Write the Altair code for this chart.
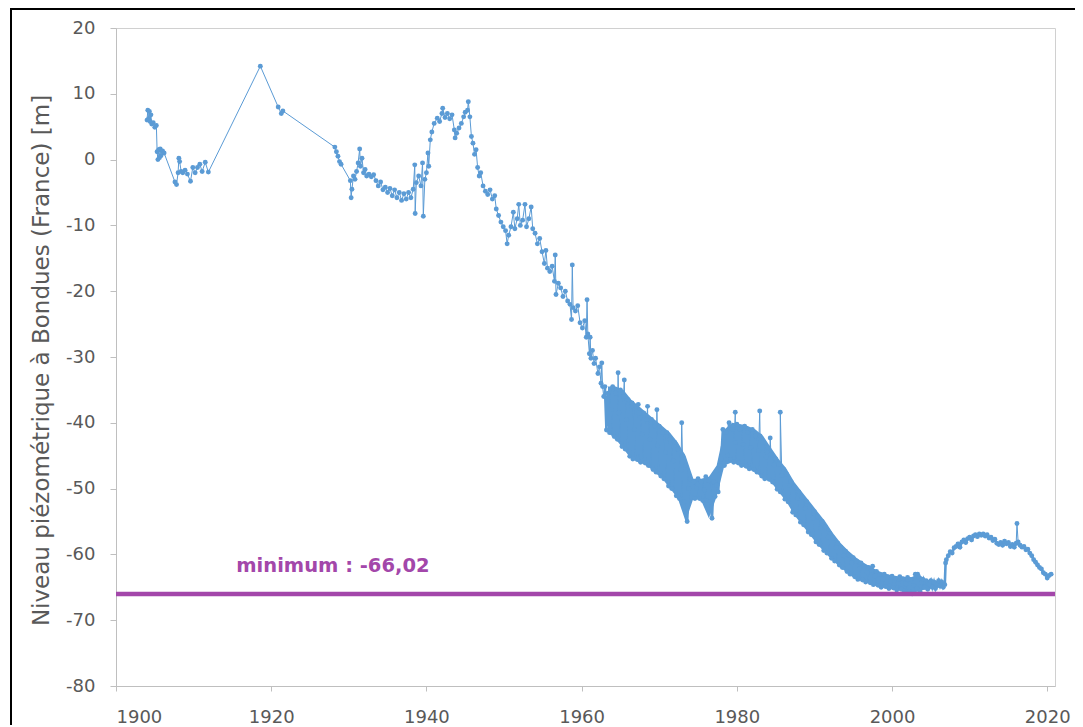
import altair as alt
import pandas as pd

# ---------------- data ----------------
# early measurements (year, level in m)
early = [(1904.0, 6.0), (1904.1, 7.5), (1904.2, 6.2), (1904.3, 7.3), (1904.4, 5.8), (1904.5, 6.8),
         (1904.6, 5.4), (1904.8, 5.6), (1905.0, 4.9), (1905.2, 5.2), (1905.3, 1.2), (1905.4, 0.0),
         (1905.5, 1.5), (1905.6, 0.3), (1905.7, 1.6), (1905.8, 0.6), (1906.0, 1.3), (1906.2, 1.0),
         (1907.6, -3.4), (1907.8, -3.8), (1908.0, -2.0), (1908.1, 0.2), (1908.2, -0.3), (1908.4, -1.8),
         (1908.6, -2.0), (1908.9, -1.6), (1909.2, -2.2), (1909.6, -3.3), (1909.9, -1.2), (1910.2, -2.0),
         (1910.5, -1.2), (1910.8, -0.7), (1911.1, -1.8), (1911.5, -0.4), (1911.9, -1.9),
         (1918.6, 14.2), (1920.9, 8.0), (1921.3, 7.0), (1921.5, 7.4),
         (1928.2, 1.9), (1928.4, 1.2), (1928.6, 0.5), (1928.8, -0.3), (1929.0, -0.7)]

mid = [(1930.2, -3.2), (1930.3, -5.8), (1930.4, -4.5), (1930.6, -2.5), (1930.8, -3.0), (1931.0, -1.8),
       (1931.2, -0.5), (1931.4, 1.6), (1931.5, -1.0), (1931.7, 0.2), (1931.9, -2.0), (1932.1, -1.5),
       (1932.3, -2.5), (1932.6, -2.2), (1932.9, -2.6), (1933.2, -2.3), (1933.5, -3.2), (1933.8, -4.0),
       (1934.1, -3.4), (1934.4, -4.6), (1934.7, -4.2), (1935.0, -5.0), (1935.3, -4.4), (1935.6, -5.5),
       (1935.9, -4.6), (1936.2, -5.8), (1936.5, -5.0), (1936.8, -6.2), (1937.1, -5.2), (1937.4, -6.0),
       (1937.7, -5.0), (1938.0, -5.8), (1938.3, -4.5), (1938.5, -0.8), (1938.55, -8.2), (1938.7, -3.5),
       (1939.0, -2.5), (1939.3, -4.0), (1939.5, -0.5), (1939.6, -8.6), (1939.8, -3.0), (1940.0, -2.0),
       (1940.2, 1.0), (1940.3, -1.0), (1940.5, 3.0), (1940.7, 4.2), (1941.0, 5.5), (1941.4, 6.3),
       (1941.7, 5.8), (1942.0, 7.0), (1942.1, 7.8), (1942.4, 6.4), (1942.7, 7.0), (1943.0, 6.2),
       (1943.3, 6.8), (1943.6, 4.5), (1943.7, 3.3), (1943.9, 4.0), (1944.2, 4.8), (1944.5, 5.5),
       (1944.8, 6.5), (1945.0, 7.2), (1945.3, 7.5), (1945.4, 8.8), (1945.6, 6.5), (1945.8, 3.5),
       (1946.0, 2.5), (1946.2, 0.8), (1946.4, 1.5), (1946.6, -1.2), (1946.8, -2.5), (1947.0, -2.0),
       (1947.3, -4.0), (1947.6, -4.8), (1947.9, -5.3), (1948.2, -4.6), (1948.5, -6.0), (1948.8, -5.5),
       (1949.0, -7.5), (1949.3, -8.5), (1949.6, -9.5), (1949.9, -10.2), (1950.2, -10.8), (1950.4, -12.8),
       (1950.6, -11.5), (1950.9, -10.2), (1951.2, -8.0), (1951.4, -10.5), (1951.7, -9.0), (1951.9, -6.8),
       (1952.1, -10.0), (1952.4, -9.2), (1952.7, -6.8), (1952.9, -10.2), (1953.2, -9.0), (1953.5, -7.2),
       (1953.7, -10.5), (1954.0, -11.2), (1954.3, -12.8), (1954.6, -12.0), (1954.9, -14.0), (1955.2, -15.8),
       (1955.4, -13.8), (1955.6, -16.5), (1955.9, -17.0), (1956.2, -16.2), (1956.5, -18.5), (1956.6, -14.5),
       (1956.7, -20.5), (1957.0, -18.8), (1957.3, -19.5), (1957.6, -20.8), (1957.9, -20.0), (1958.2, -21.5),
       (1958.5, -22.0), (1958.7, -24.3), (1958.8, -16.0), (1958.9, -22.5), (1959.2, -23.0), (1959.5, -22.2),
       (1959.8, -24.8), (1960.1, -25.6), (1960.4, -24.5), (1960.6, -27.0), (1960.7, -21.3), (1960.8, -26.5),
       (1961.0, -29.5), (1961.1, -27.0), (1961.2, -30.2), (1961.4, -29.0), (1961.6, -31.0), (1961.8, -30.2),
       (1962.1, -32.5), (1962.3, -31.5), (1962.5, -34.0), (1962.6, -30.9), (1962.7, -34.5), (1962.85, -36.0)]

# dense seasonal band: five readings per year (at +0.0, +0.2, +0.4, +0.6, +0.8)
band_offsets = [0.0, 0.2, 0.4, 0.6, 0.8]
band = {
    1963: [-34.5, -41.1, -35.5, -41.5, -38.0],
    1964: [-34.5, -42.1, -35.5, -42.5, -38.5],
    1965: [-35.0, -43.6, -36.0, -44.0, -39.5],
    1966: [-36.5, -45.1, -37.5, -45.5, -41.0],
    1967: [-37.5, -45.6, -38.5, -46.0, -41.8],
    1968: [-38.5, -46.1, -39.5, -46.5, -42.5],
    1969: [-39.5, -47.1, -40.5, -47.5, -43.5],
    1970: [-40.5, -48.1, -41.5, -48.5, -44.5],
    1971: [-41.5, -49.6, -42.5, -50.0, -45.8],
    1972: [-43.0, -51.1, -44.0, -51.5, -47.2],
    1973: [-45.0, -52.0, -46.5, -55.0, -50.0],
    1974: [-48.5, -51.3, -49.0, -51.5, -50.0],
    1975: [-48.5, -51.5, -49.0, -51.8, -50.2],
    1976: [-48.2, -51.8, -48.8, -52.0, -54.5],
    1977: [-49.0, -51.2, -49.5, -50.5, -46.5],
    1978: [-45.5, -41.0, -46.5, -41.5, -45.0],
    1979: [-40.0, -45.6, -41.0, -46.0, -43.0],
    1980: [-40.2, -46.1, -41.0, -46.5, -43.3],
    1981: [-40.5, -46.6, -41.5, -47.0, -43.8],
    1982: [-41.0, -47.1, -42.0, -47.5, -44.2],
    1983: [-42.0, -48.1, -43.0, -48.5, -45.2],
    1984: [-43.8, -48.6, -44.8, -49.0, -46.4],
    1985: [-45.5, -50.1, -46.3, -50.5, -48.0],
    1986: [-47.0, -51.6, -47.8, -52.0, -49.5],
    1987: [-49.0, -53.6, -49.8, -54.0, -51.5],
    1988: [-50.5, -55.1, -51.3, -55.5, -53.0],
    1989: [-52.0, -56.6, -52.8, -57.0, -54.5],
    1990: [-53.5, -58.1, -54.3, -58.5, -56.0],
    1991: [-55.0, -59.4, -55.8, -59.8, -57.4],
    1992: [-56.8, -60.6, -57.5, -61.0, -58.9],
    1993: [-58.3, -61.6, -58.9, -62.0, -60.2],
    1994: [-59.5, -62.6, -60.1, -63.0, -61.3],
    1995: [-60.5, -63.4, -61.0, -63.8, -62.2],
    1996: [-61.3, -63.9, -61.8, -64.2, -62.8],
    1997: [-62.0, -64.3, -62.4, -64.6, -63.3],
    1998: [-62.6, -64.7, -63.0, -65.0, -63.8],
    1999: [-63.0, -64.9, -63.4, -65.2, -64.1],
    2000: [-63.3, -65.1, -63.6, -65.4, -64.4],
    2001: [-63.4, -65.3, -63.7, -65.6, -64.5],
    2002: [-63.5, -65.6, -63.8, -66.0, -64.7],
    2003: [-63.0, -65.2, -63.4, -65.6, -64.3],
    2004: [-63.8, -65.0, -64.0, -65.3, -64.5],
    2005: [-64.0, -65.0, -64.2, -65.2, -64.6],
    2006: [-64.0, -64.8, -64.2, -65.0, -64.6],
}

# isolated high readings inside the band period
spikes = [(1964.7, -32.4), (1965.5, -33.5), (1966.5, -37.0), (1967.3, -37.2), (1968.5, -37.5),
          (1969.7, -38.0), (1972.9, -40.0), (1979.8, -38.4), (1982.95, -38.2), (1984.3, -42.3),
          (1985.6, -38.4), (1997.5, -61.8), (2003.3, -63.0)]

recent = [(2006.9, -61.3), (2007.0, -60.8), (2007.25, -60.2), (2007.5, -59.6), (2007.75, -59.8),
          (2008.0, -59.0), (2008.25, -58.8), (2008.5, -58.4), (2008.75, -58.9), (2009.0, -58.1),
          (2009.25, -57.8), (2009.5, -58.2), (2009.75, -57.6), (2010.0, -57.4), (2010.25, -57.8),
          (2010.5, -57.2), (2010.75, -57.0), (2011.0, -57.3), (2011.25, -56.9), (2011.5, -57.1),
          (2011.75, -56.9), (2012.0, -57.2), (2012.25, -57.0), (2012.5, -57.5), (2012.75, -57.4),
          (2013.0, -57.9), (2013.25, -57.7), (2013.5, -58.3), (2013.75, -58.5), (2014.0, -58.2),
          (2014.25, -58.6), (2014.5, -58.0), (2014.75, -58.4), (2015.0, -58.2), (2015.25, -58.8),
          (2015.5, -58.5), (2015.75, -58.9), (2016.0, -58.3), (2016.25, -58.1),
          (2016.5, -58.6), (2016.75, -58.9), (2017.0, -58.8), (2017.25, -59.3), (2017.5, -59.2),
          (2017.75, -59.8), (2018.0, -60.2), (2018.25, -60.8), (2018.5, -61.2), (2018.75, -61.6),
          (2019.0, -62.0), (2019.25, -62.2), (2019.5, -62.8), (2019.75, -63.0), (2020.0, -63.6),
          (2020.25, -63.2), (2020.5, -63.0)]
recent_spikes = [(2016.1, -55.3)]

min_level = -66.02
min_label = "minimum : -66,02"
min_label_pos = (1915.5, -62.6)

x_ticks = [1900, 1920, 1940, 1960, 1980, 2000, 2020]
y_ticks = [-80, -70, -60, -50, -40, -30, -20, -10, 0, 10, 20]
y_title = "Niveau piézométrique à Bondues (France) [m]"

BLUE = "#5B9BD5"
PURPLE = "#A347AA"
GREY_TXT = "#595959"

# ---------------- tables ----------------
rows = [(y, v, "sparse") for y, v in early + mid + spikes + recent_spikes]
rows += [(y, v, "dense") for y, v in recent]
for yr, vals in band.items():
    for off, v in zip(band_offsets, vals):
        rows.append((yr + off, v, "dense"))
df = pd.DataFrame(rows, columns=["year", "level", "kind"]).sort_values("year").reset_index(drop=True)

# yearly envelope of the seasonal band (highest / lowest reading of each year)
env = pd.DataFrame([(yr + 0.4, max(vals), min(vals)) for yr, vals in band.items()],
                   columns=["year", "top", "bottom"])

x_enc = alt.X("year:Q",
              scale=alt.Scale(domain=[1900, 2021], nice=False, zero=False),
              axis=alt.Axis(values=x_ticks, labelExpr="'' + datum.value", title=None,
                            grid=False, tickSize=5, labelPadding=17))
y_enc = alt.Y("level:Q",
              scale=alt.Scale(domain=[-80, 20], nice=False, zero=False),
              axis=alt.Axis(values=y_ticks, labelExpr="'' + datum.value", title=y_title,
                            grid=False, tickSize=6, labelPadding=15,
                            titleX=-68, titleY=332, titleAngle=270, titleAlign="center",
                            titleBaseline="alphabetic"))

base = alt.Chart(df)
envelope = alt.Chart(env).mark_area(color=BLUE, opacity=1, clip=True).encode(
    x=alt.X("year:Q"), y=alt.Y("top:Q"), y2="bottom:Q")
line = base.mark_line(color=BLUE, strokeWidth=1, clip=True).encode(x=x_enc, y=y_enc)
dense_line = base.transform_filter("datum.kind == 'dense'").mark_line(
    color=BLUE, strokeWidth=2.6, clip=True).encode(x=x_enc, y=y_enc)
pts = base.mark_circle(color=BLUE, size=24, opacity=1, clip=True).encode(x=x_enc, y=y_enc)

min_df = pd.DataFrame({"level": [min_level]})
min_rule = alt.Chart(min_df).mark_rule(color=PURPLE, strokeWidth=4.5).encode(y=alt.Y("level:Q"))

lab_df = pd.DataFrame({"year": [min_label_pos[0]], "level": [min_label_pos[1]], "label": [min_label]})
min_text = alt.Chart(lab_df).mark_text(
    color=PURPLE, font="DejaVu Sans", fontSize=19.5, fontWeight="bold",
    align="left", baseline="alphabetic"
).encode(x=alt.X("year:Q"), y=alt.Y("level:Q"), text="label:N")

# outer frame of the figure (top and left edges)
frame_top = alt.Chart(min_df).mark_rule(color="black", strokeWidth=2).encode(
    x=alt.value(-106), x2=alt.value(959), y=alt.value(-19))
frame_left = alt.Chart(min_df).mark_rule(color="black", strokeWidth=2).encode(
    x=alt.value(-105), y=alt.value(-19), y2=alt.value(712))

chart = alt.layer(line, envelope, dense_line, pts, min_rule, min_text, frame_top, frame_left).properties(
    width=939, height=658,
    autosize=alt.AutoSizeParams(type="none"),
    padding={"left": 108, "top": 20, "right": 20, "bottom": 39},
    background="white",
).configure_view(
    stroke="#D0D0D0", strokeWidth=1
).configure_axis(
    labelFont="DejaVu Sans", labelFontSize=18, labelColor=GREY_TXT,
    domainColor="#BFBFBF", tickColor="#BFBFBF",
    titleFont="DejaVu Sans", titleFontSize=23, titleColor=GREY_TXT, titleFontWeight="normal",
)

chart.save("out.html", embed_options={"renderer": "svg", "actions": False})
